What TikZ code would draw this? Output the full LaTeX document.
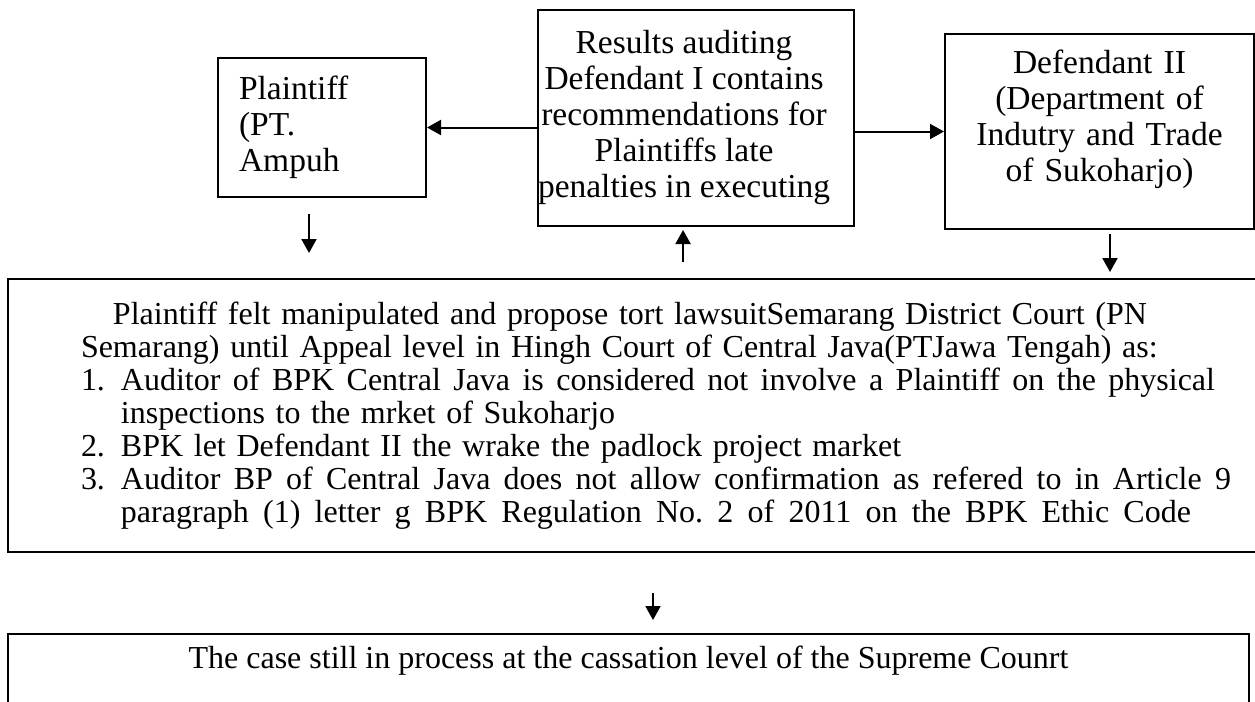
\documentclass[tikz,border=0pt]{standalone}
\usepackage{fontspec}
\setmainfont{Liberation Serif}
\usepackage{tikz}
\usetikzlibrary{arrows.meta, positioning, calc}
\newcommand{\stretchrow}[2]{\makebox[#1][s]{\spaceskip=0pt\relax #2}}
\tikzset{
  casebox/.style={rectangle, draw=black, line width=1pt, inner sep=0pt,
    font=\fontsize{16.75}{18}\selectfont},
  suitbox/.style={rectangle, draw=black, line width=1pt,
    inner xsep=36.5pt, inner ysep=11.5pt, text width=591pt, align=left,
    font=\fontsize{16}{16.5}\selectfont},
  endbox/.style={rectangle, draw=black, line width=1pt,
    inner xsep=0pt, inner ysep=6pt, text depth=50pt,
    font=\fontsize{16}{16.5}\selectfont},
  arrow/.style={-{Triangle[length=7pt,width=7.5pt]}, line width=1pt}
}

\begin{document}
\begin{tikzpicture}[x=0.5pt, y=-0.5pt]
  \useasboundingbox (0,0) rectangle (1255,702);
  \node[casebox, anchor=north west, minimum width=104pt, minimum height=69.5pt,
    text width=83pt, align=left] (plaintiff) at (217,57) {Plaintiff\\(PT.\\Ampuh};
  \node[casebox, anchor=north west, minimum width=158pt, minimum height=108pt] (results) at (537,9)
    {\begin{tabular}{@{}c@{}}Results auditing\\Defendant I contains\\recommendations for\\Plaintiffs late\\penalties in executing\end{tabular}\hspace*{12pt}};
  \node[casebox, anchor=north west, minimum width=154.5pt, minimum height=97.5pt,
    text width=150pt, align=center, text depth=69.5pt] (defendant) at (944,33)
    {Defendant II\\(Department of\\Indutry and Trade\\of Sukoharjo)};
  \node[suitbox, anchor=north west] (suit) at (7,278) {\frenchspacing
    \hspace*{16pt}Plaintiff felt manipulated and propose tort lawsuitSemarang District Court (PN\\
    Semarang) until Appeal level in Hingh Court of Central Java(PTJawa Tengah) as:\\
    \makebox[20pt][l]{1.}\stretchrow{547pt}{Auditor of BPK Central Java is considered not involve a Plaintiff on the physical}\\
    \hspace*{20pt}inspections to the mrket of Sukoharjo\\
    \makebox[20pt][l]{2.}BPK let Defendant II the wrake the padlock project market\\
    \makebox[20pt][l]{3.}\stretchrow{555pt}{Auditor BP of Central Java does not allow confirmation as refered to in Article 9}\\
    \hspace*{20pt}\stretchrow{535pt}{paragraph (1) letter g BPK Regulation No. 2 of 2011 on the BPK Ethic Code}};
  \node[endbox, anchor=north west, minimum width=620.5pt] (cassation) at (7,633)
    {The case still in process at the cassation level of the Supreme Counrt};

  \draw[arrow] (results.west |- plaintiff.east) -- (plaintiff.east);
  \draw[arrow] (results.east |- defendant.west) -- (defendant.west);
  \draw[arrow, shorten <=8pt, shorten >=12.5pt] ($(plaintiff.south)+(-13,0)$) -- ($(plaintiff.south |- suit.north)+(-13,0)$);
  \draw[arrow, shorten <=8pt, shorten >=1.5pt] ($(results.south |- suit.north)+(-13,0)$) -- ($(results.south)+(-13,0)$);
  \draw[arrow, shorten <=2pt, shorten >=3pt] ($(defendant.south)+(10.5,0)$) -- ($(defendant.south |- suit.north)+(10.5,0)$);
  \draw[arrow, shorten <=20pt, shorten >=6.5pt] ($(suit.south -| cassation.north)+(24.5,0)$) -- ($(cassation.north)+(24.5,0)$);
\end{tikzpicture}
\end{document}
